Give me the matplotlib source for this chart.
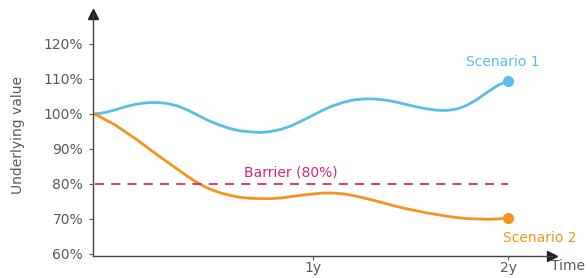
import matplotlib
matplotlib.use("Agg")
import matplotlib.pyplot as plt

plt.rcParams['font.family'] = ['DejaVu Sans']

# time in years, values in % of initial level
t = [0.0, 0.05, 0.1, 0.15, 0.2, 0.25, 0.3, 0.35, 0.4, 0.45, 0.5,
     0.55, 0.6, 0.65, 0.7, 0.75, 0.8, 0.85, 0.9, 0.95, 1.0,
     1.05, 1.1, 1.15, 1.2, 1.25, 1.3, 1.35, 1.4, 1.45, 1.5,
     1.55, 1.6, 1.65, 1.7, 1.75, 1.8, 1.85, 1.9, 1.95, 2.0]
scenario1 = [100.0, 100.4, 101.2, 102.1, 102.8, 103.2, 103.3, 103.0, 102.3, 101.1, 99.6,
             98.1, 96.9, 95.9, 95.2, 94.9, 94.7, 95.0, 95.6, 96.6, 98.0,
             99.5, 101.0, 102.3, 103.3, 104.0, 104.3, 104.3, 104.0, 103.5, 102.8,
             102.1, 101.5, 101.1, 101.0, 101.4, 102.5, 104.2, 106.3, 108.2, 109.5]
scenario2 = [100.0, 98.4, 96.8, 94.8, 92.8, 90.6, 88.4, 86.3, 84.2, 82.1, 80.2,
             78.7, 77.6, 76.8, 76.2, 75.9, 75.8, 75.8, 76.0, 76.4, 76.8,
             77.1, 77.4, 77.4, 77.2, 76.7, 76.0, 75.3, 74.5, 73.7, 73.0,
             72.4, 71.8, 71.3, 70.8, 70.4, 70.1, 70.0, 69.9, 70.0, 70.3]
barrier = 80
yticks = [60, 70, 80, 90, 100, 110, 120]
xticks = [1.053, 2.0]
xlabels = ['1y', '2y']

blue = '#5bbde9'
orange = '#f7931e'
pink = '#d9266e'
grey = '#5a5a5a'

fig = plt.figure(figsize=(5.87, 2.78), dpi=100)
ax = fig.add_axes([0.158, 0.079, 0.782, 0.871])

ax.plot(t, scenario1, color=blue, lw=2, solid_capstyle='round', solid_joinstyle='round')
ax.plot(t, scenario2, color=orange, lw=2, solid_capstyle='round', solid_joinstyle='round')
ax.plot(t[-1], scenario1[-1], 'o', color=blue, ms=7)
ax.plot(t[-1], scenario2[-1], 'o', color=orange, ms=7)
ax.plot([t[0], t[-1]], [barrier, barrier], color=pink, lw=1.3, ls=(0, (5, 4)))

ax.text(0.95, 83.2, 'Barrier (80%)', color=pink, fontsize=10, ha='center', va='center')
ax.text(1.975, 114.9, 'Scenario 1', color=blue, fontsize=10, ha='center', va='center')
ax.text(2.15, 64.6, 'Scenario 2', color=orange, fontsize=10, ha='center', va='center')

ax.set_xlim(-0.01, 2.21)
ax.set_ylim(59.4, 128.6)
ax.set_yticks(yticks)
ax.set_yticklabels([f'{v}%' for v in yticks])
ax.set_xticks(xticks)
ax.set_xticklabels(xlabels)
ax.tick_params(colors=grey, labelsize=10, length=3, width=0.8)
ax.tick_params(axis='y', pad=4)
ax.tick_params(axis='x', pad=0.5)
ax.set_ylabel('Underlying value', color=grey, fontsize=10, labelpad=13)
ax.text(2.205, 56.6, 'Time', color=grey, fontsize=10, ha='left', va='center', clip_on=False)

for s in ['top', 'right']:
    ax.spines[s].set_visible(False)
for s in ['left', 'bottom']:
    ax.spines[s].set_color('#444444')
    ax.spines[s].set_linewidth(1)

# arrow heads on the axes
ax.plot(1, 0, '>', color='#222222', ms=7, transform=ax.transAxes, clip_on=False)
ax.plot(0, 1, '^', color='#222222', ms=7, transform=ax.transAxes, clip_on=False)

fig.savefig('out.png', dpi=100)
